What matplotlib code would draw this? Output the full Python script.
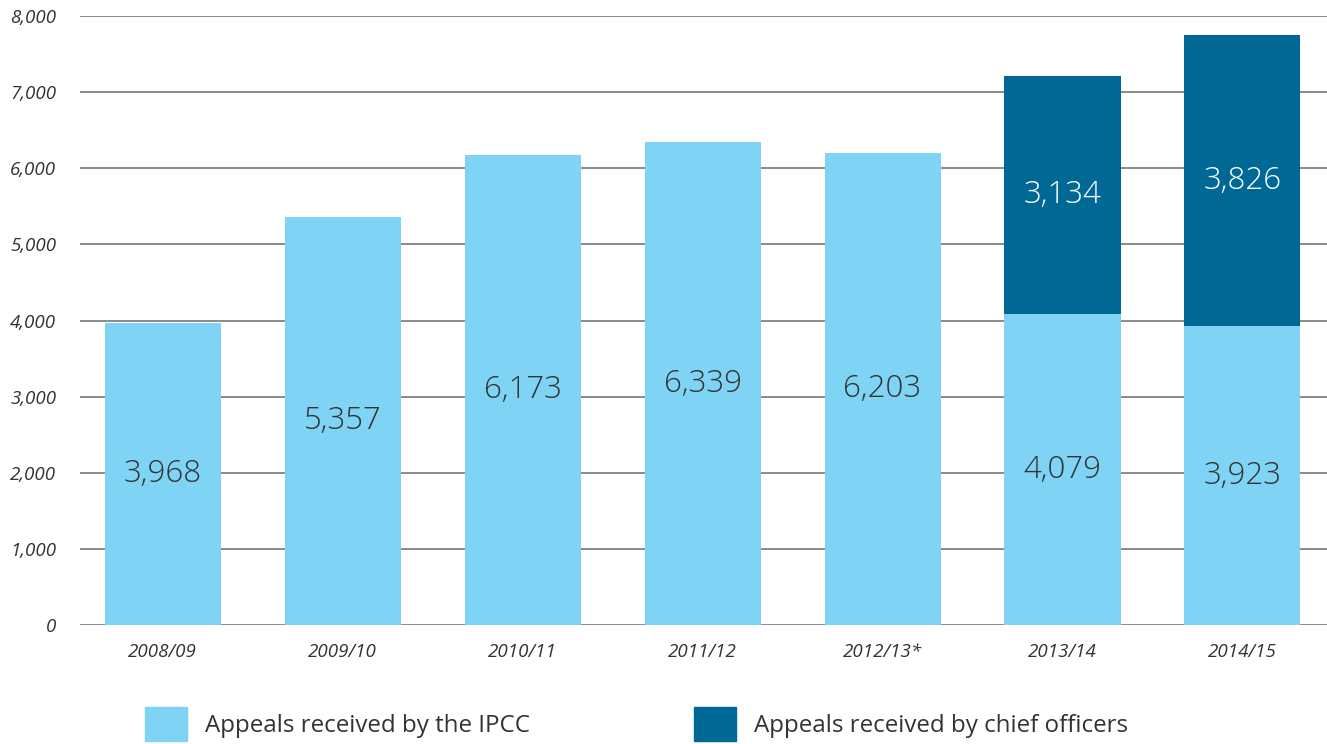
import matplotlib
matplotlib.use("Agg")
import matplotlib.pyplot as plt
from matplotlib.patches import Patch

categories = ["2008/09", "2009/10", "2010/11", "2011/12", "2012/13*", "2013/14", "2014/15"]
ipcc = [3968, 5357, 6173, 6339, 6203, 4079, 3923]
chief = [0, 0, 0, 0, 0, 3134, 3826]
yticks = [0, 1000, 2000, 3000, 4000, 5000, 6000, 7000, 8000]

light = "#7fd3f5"
dark = "#006894"
txt = "#333333"
plt.rcParams['font.family'] = ['Open Sans', 'DejaVu Sans']

fig = plt.figure(figsize=(13.27, 7.44), dpi=100)
ax = fig.add_axes([80/1327, 119/744, 1 - 80/1327, (625-16)/744])

x = list(range(len(categories)))
w = 0.645
ax.bar(x, ipcc, width=w, color=light, zorder=2)
ax.bar(x, chief, width=w, bottom=ipcc, color=dark, zorder=2)

for i in x:
    ax.text(i, ipcc[i]/2, f"{ipcc[i]:,}", ha='center', va='center', fontsize=22.5, color=txt, fontweight='light', zorder=3)
    if chief[i] > 0:
        ax.text(i, ipcc[i] + chief[i]/2, f"{chief[i]:,}", ha='center', va='center', fontsize=22.5, color='white', fontweight='light', zorder=3)

ax.set_xlim(-0.46, 6.47)
ax.set_ylim(0, 8000)
ax.set_yticks(yticks)
ax.set_yticklabels([f"{v:,}" for v in yticks], fontsize=13.5, style='italic', color=txt)
ax.set_xticks(x)
ax.set_xticklabels(categories, fontsize=13.5, style='italic', color=txt)
ax.tick_params(axis='both', length=0)
ax.tick_params(axis='y', pad=17)
ax.tick_params(axis='x', pad=13)
for lab in ax.get_yticklabels():
    lab.set_horizontalalignment('right')
ax.grid(axis='y', color='#777777', linewidth=1.2, zorder=1)
for s in ax.spines.values():
    s.set_visible(False)

handles = [Patch(color=light), Patch(color=dark)]
fig.legend(handles, ["Appeals received by the IPCC", "Appeals received by chief officers"],
           loc='center left', bbox_to_anchor=(145/1327, 20/744), ncol=2, frameon=False,
           fontsize=17.4, handlelength=1.75, handleheight=1.75, handletextpad=0.72,
           columnspacing=6.8, borderpad=0, borderaxespad=0, labelcolor=txt)

fig.savefig("out.png", dpi=100)
